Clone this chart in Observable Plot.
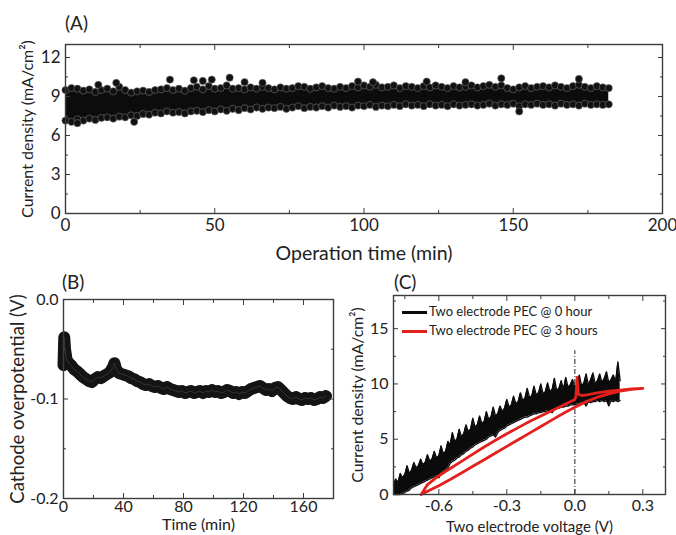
<!DOCTYPE html>
<html><head><meta charset="utf-8">
<script src="https://cdn.jsdelivr.net/npm/d3@7"></script>
<script src="https://cdn.jsdelivr.net/npm/@observablehq/plot@0.6"></script>
<style>
body{margin:0;background:#fff;}
#wrap{position:relative;width:676px;height:535px;overflow:hidden;font-family:Lato,"Open Sans",sans-serif;color:#222;}
.panel{position:absolute;}
.ttl{position:absolute;font-size:19px;line-height:1;}
.leg{position:absolute;font-size:13px;line-height:1;white-space:nowrap;}
.leg span.ln{display:inline-block;width:25px;height:3px;vertical-align:middle;margin-right:2px;}
</style></head><body><div id="wrap"></div>
<script>
// ---------- Panel A: current density vs operation time ----------
const timeA = [0,2,4,6,8,10,12,14,16,18,20,22,24,26,28,30,32,34,36,38,40,42,44,46,48,50,52,54,56,58,60,62,64,66,68,70,72,74,76,78,80,82,84,86,88,90,92,94,96,98,100,102,104,106,108,110,112,114,116,118,120,122,124,126,128,130,132,134,136,138,140,142,144,146,148,150,152,154,156,158,160,162,164,166,168,170,172,174,176,178,180,182];
const upperA = [9.5,9.65,9.6,9.45,9.55,9.35,9.5,9.6,9.4,9.75,9.5,9.3,9.4,9.45,9.35,9.5,9.55,9.65,9.5,9.6,9.45,9.65,9.75,9.55,9.8,9.6,9.65,9.85,9.6,9.65,9.55,9.7,9.6,9.75,9.65,9.55,9.7,9.6,9.65,9.8,9.75,9.6,9.7,9.8,9.65,9.6,9.75,9.65,9.8,9.7,9.85,9.75,9.9,9.7,9.75,9.85,9.65,9.8,9.75,9.65,9.8,9.7,9.85,9.75,9.65,9.8,9.7,9.75,9.85,9.7,9.8,9.9,9.75,9.85,9.65,9.55,9.7,9.8,9.65,9.75,9.8,9.7,9.85,9.75,9.65,9.8,9.9,9.75,9.65,9.8,9.7,9.65];
const lowerA = [7.15,7.05,7.25,7.15,7.3,7.2,7.35,7.4,7.3,7.45,7.4,7.55,7.5,7.65,7.6,7.75,7.7,7.85,7.75,7.8,7.7,7.85,7.9,7.8,7.95,7.85,8.0,7.9,8.05,7.95,8.1,8.0,8.15,8.05,8.15,8.1,8.2,8.05,8.15,8.25,8.1,8.2,8.15,8.25,8.15,8.3,8.2,8.25,8.15,8.3,8.25,8.35,8.2,8.3,8.25,8.35,8.25,8.4,8.3,8.35,8.25,8.4,8.3,8.35,8.25,8.4,8.3,8.35,8.4,8.3,8.35,8.45,8.3,8.4,8.35,8.45,8.25,8.4,8.35,8.45,8.35,8.4,8.3,8.45,8.35,8.4,8.3,8.45,8.35,8.4,8.35,8.4];
const outlierTimeA = [4,11,17,23,35,43,46,49,55,60,66,98,103,121,134,146,152,172];
const outlierValA = [6.95,9.9,10.05,7.05,10.3,10.25,10.2,10.3,10.45,10.1,10.05,10.15,10.1,10.15,10.1,10.4,7.85,10.35];
const xMajorA = [0,50,100,150,200];
const xMinorA = [25,75,125,175];
const yMajorA = [0,3,6,9,12];
const yMinorA = [1.5,4.5,7.5,10.5];

// ---------- Panel B: cathode overpotential vs time ----------
const timeB = [0,0.5,1,2,3,5,7,9,11,13,15,17,19,21,23,25,27,29,31,33,34,35,37,39,41,43,45,47,49,51,53,55,57,59,61,63,65,67,69,71,73,75,77,79,81,83,85,87,89,91,93,95,97,99,101,103,105,107,109,111,113,115,117,119,121,123,125,127,129,131,133,135,137,139,141,143,145,147,149,151,153,155,157,159,161,163,165,167,169,171,173,175];
const cathodeB = [-0.066,-0.038,-0.05,-0.06,-0.063,-0.066,-0.07,-0.072,-0.075,-0.078,-0.08,-0.082,-0.083,-0.08,-0.078,-0.079,-0.077,-0.075,-0.073,-0.068,-0.064,-0.07,-0.074,-0.075,-0.076,-0.077,-0.079,-0.08,-0.082,-0.083,-0.085,-0.086,-0.085,-0.087,-0.088,-0.087,-0.089,-0.09,-0.088,-0.09,-0.091,-0.092,-0.093,-0.092,-0.094,-0.093,-0.092,-0.094,-0.093,-0.092,-0.094,-0.092,-0.093,-0.091,-0.093,-0.092,-0.094,-0.093,-0.091,-0.092,-0.094,-0.093,-0.095,-0.093,-0.094,-0.092,-0.09,-0.089,-0.088,-0.087,-0.089,-0.091,-0.09,-0.092,-0.089,-0.088,-0.091,-0.094,-0.097,-0.099,-0.1,-0.098,-0.1,-0.101,-0.099,-0.1,-0.099,-0.101,-0.1,-0.098,-0.099,-0.097];
const xMajorB = [0,40,80,120,160];
const xMinorB = [20,60,100,140,180];
const yMajorB = [0,-0.1,-0.2];
const yMinorB = [-0.05,-0.15];

// ---------- Panel C: current density vs two electrode voltage ----------
const voltBlack = [-0.80,-0.79,-0.78,-0.77,-0.76,-0.75,-0.74,-0.73,-0.72,-0.71,-0.70,-0.69,-0.68,-0.67,-0.66,-0.65,-0.64,-0.63,-0.62,-0.61,-0.60,-0.59,-0.58,-0.57,-0.56,-0.55,-0.54,-0.53,-0.52,-0.51,-0.50,-0.49,-0.48,-0.47,-0.46,-0.45,-0.44,-0.43,-0.42,-0.41,-0.40,-0.39,-0.38,-0.37,-0.36,-0.35,-0.34,-0.33,-0.32,-0.31,-0.30,-0.29,-0.28,-0.27,-0.26,-0.25,-0.24,-0.23,-0.22,-0.21,-0.20,-0.19,-0.18,-0.17,-0.16,-0.15,-0.14,-0.13,-0.12,-0.11,-0.10,-0.09,-0.08,-0.07,-0.06,-0.05,-0.04,-0.03,-0.02,-0.01,0.00,0.01,0.02,0.03,0.04,0.05,0.06,0.07,0.08,0.09,0.10,0.11,0.12,0.13,0.14,0.15,0.16,0.17,0.18,0.19,0.20];
const jBlackHigh = [0.9,1.4,1.1,1.9,1.5,1.8,2.6,1.9,2.2,2.9,2.4,2.6,3.2,2.7,2.9,3.6,3.0,3.2,3.9,3.3,3.5,4.4,3.7,3.9,4.8,4.5,5.6,4.8,5.0,5.9,5.2,5.5,6.3,5.7,5.9,6.9,6.1,6.3,7.1,6.4,6.6,7.5,6.8,7.0,7.9,7.1,7.3,8.0,7.5,7.8,8.6,7.9,8.1,8.9,8.2,8.4,9.2,8.5,8.7,9.6,8.8,8.9,9.8,9.0,9.2,10.0,9.1,9.3,10.1,9.3,9.5,10.5,9.4,9.6,10.3,9.5,10.6,9.7,9.9,10.4,9.7,10.0,10.8,9.8,10.1,10.9,9.9,10.4,11.0,10.0,10.3,10.9,10.1,10.5,11.1,10.1,10.4,10.8,10.2,12.0,10.3];
const jBlackLow = [0.0,0.0,0.0,0.0,0.1,0.2,0.3,0.4,0.6,0.7,0.8,0.9,1.0,1.1,1.2,1.3,1.4,1.5,1.6,1.7,1.5,1.9,2.1,2.2,2.4,2.8,3.0,3.1,3.3,3.4,3.6,3.7,3.9,4.0,4.2,4.3,4.5,4.6,4.7,4.8,4.9,5.0,5.2,5.3,5.4,5.2,5.6,5.8,5.9,6.0,6.2,6.3,6.4,6.5,6.6,6.7,6.8,6.9,7.0,7.0,7.1,7.2,7.3,7.3,7.4,7.4,7.5,7.5,7.6,7.6,7.4,7.7,7.8,7.8,7.9,7.9,8.0,8.0,8.1,8.1,8.1,8.2,8.2,8.3,8.3,8.0,8.4,8.3,8.4,8.4,8.5,8.4,8.5,8.4,8.5,8.0,8.5,8.4,8.5,8.4,8.5];
const voltRed = [-0.678,-0.65,-0.6,-0.55,-0.5,-0.45,-0.4,-0.35,-0.3,-0.25,-0.2,-0.15,-0.1,-0.05,0.0,0.05,0.1,0.15,0.2,0.25,0.3,0.25,0.2,0.15,0.1,0.05,0.03,0.015,0.01,0.005,0.0,-0.05,-0.1,-0.15,-0.2,-0.25,-0.3,-0.35,-0.4,-0.45,-0.5,-0.55,-0.6,-0.65,-0.678];
const jRed = [0.0,0.3,0.8,1.35,1.95,2.55,3.15,3.75,4.35,4.95,5.55,6.15,6.75,7.35,7.9,8.4,8.8,9.1,9.35,9.5,9.6,9.55,9.45,9.35,9.2,9.0,8.95,9.1,10.6,8.9,8.6,8.1,7.6,7.1,6.6,6.05,5.5,4.9,4.3,3.65,3.0,2.35,1.7,0.9,0.0];
const guideC = [{v:0, lo:0, hi:13}];
const xMajorC = [-0.6,-0.3,0,0.3];
const xMinorC = [-0.75,-0.45,-0.15,0.15];
const yMajorC = [0,5,10,15];
const yMinorC = [2.5,7.5,12.5,17.5];
const legendC = ["Two electrode PEC @ 0 hour","Two electrode PEC @ 3 hours"];
const colorsC = ["#0b0b0b","#e3201c"];

// ---------- helpers ----------
const FONT = "Lato, 'Open Sans', sans-serif";
const FRAME = "#3c3c3c";
const TXT = "#222";
function tickAxes(xMaj, xMin, yMaj, yMin, fmtX, fmtY, fs, xPad) {
  const blank = () => "";
  return [
    Plot.axisX(xMaj, {anchor:"bottom", tickSize:-5, tickPadding:xPad, tickFormat:fmtX, fontSize:fs, fill:TXT, stroke:FRAME, label:null}),
    Plot.axisX(xMin, {anchor:"bottom", tickSize:-3, tickFormat:blank, stroke:FRAME, label:null}),
    Plot.axisX(xMaj, {anchor:"top", tickSize:-5, tickFormat:blank, stroke:FRAME, label:null}),
    Plot.axisX(xMin, {anchor:"top", tickSize:-3, tickFormat:blank, stroke:FRAME, label:null}),
    Plot.axisY(yMaj, {anchor:"left", tickSize:-5, tickPadding:10, tickFormat:fmtY, fontSize:fs, fill:TXT, stroke:FRAME, label:null}),
    Plot.axisY(yMin, {anchor:"left", tickSize:-3, tickFormat:blank, stroke:FRAME, label:null}),
    Plot.axisY(yMaj, {anchor:"right", tickSize:-5, tickFormat:blank, stroke:FRAME, label:null}),
    Plot.axisY(yMin, {anchor:"right", tickSize:-3, tickFormat:blank, stroke:FRAME, label:null}),
    Plot.frame({stroke:FRAME, strokeWidth:1.4})
  ];
}
function axisTitles(xLabel, xOff, xFs, yLabel, yOff, yFs) {
  return [
    Plot.text([xLabel], {frameAnchor:"bottom", dy:xOff, lineAnchor:"bottom", textAnchor:"middle", fontSize:xFs, fill:TXT}),
    Plot.text([yLabel], {frameAnchor:"left", dx:-yOff, rotate:-90, lineAnchor:"top", textAnchor:"middle", fontSize:yFs, fill:TXT})
  ];
}
const wrap = document.getElementById("wrap");
function place(el, left, top) { el.classList.add("panel"); el.style.left = left+"px"; el.style.top = top+"px"; wrap.appendChild(el); }

// ---------- Panel A ----------
const rowsA = timeA.map((t,i) => ({t, hi:upperA[i], lo:lowerA[i]}));
const outA = outlierTimeA.map((t,i) => ({t, v:outlierValA[i]}));
const dotStyle = {r:3.6, fill:"#111", stroke:"#6e6e6e", strokeWidth:0.6};
const plotA = Plot.plot({
  width:676, height:270, marginLeft:65, marginRight:14, marginTop:44, marginBottom:57,
  style:{fontFamily:FONT, fontSize:"17px", background:"transparent", color:TXT, overflow:"visible"},
  x:{domain:[0,200]}, y:{domain:[0,13]},
  marks:[
    Plot.areaY(rowsA, {x:"t", y1:"lo", y2:"hi", fill:"#0c0c0c"}),
    Plot.dot(rowsA, {x:"t", y:"hi", ...dotStyle}),
    Plot.dot(rowsA, {x:"t", y:"lo", ...dotStyle}),
    Plot.dot(outA, {x:"t", y:"v", ...dotStyle}),
    ...tickAxes(xMajorA, xMinorA, yMajorA, yMinorA, d=>String(d), d=>String(d), 17, 10),
    ...axisTitles("Operation time (min)", 46, 19.5, "Current density (mA/cm²)", 44, 16)
  ]
});
place(plotA, 0, 0);

// ---------- Panel B ----------
const rowsB = timeB.map((t,i) => ({t, v:cathodeB[i]}));
const plotB = Plot.plot({
  width:340, height:265, marginLeft:63, marginRight:7, marginTop:29, marginBottom:37,
  style:{fontFamily:FONT, fontSize:"16px", background:"transparent", color:TXT, overflow:"visible"},
  x:{domain:[0,180]}, y:{domain:[-0.2,0]},
  marks:[
    Plot.line(rowsB, {x:"t", y:"v", stroke:"#141414", strokeWidth:12, strokeLinejoin:"round", strokeLinecap:"round"}),
    Plot.line(rowsB, {x:"t", y:"v", stroke:"#3a3a3a", strokeWidth:1, strokeOpacity:0.8}),
    ...tickAxes(xMajorB, xMinorB, yMajorB, yMinorB, d=>String(d), d=>d.toFixed(1), 16, 7),
    ...axisTitles("Time (min)", 31, 16, "Cathode overpotential (V)", 53, 18.5)
  ]
});
place(plotB, 0, 270);

// ---------- Panel C ----------
const rowsBlack = voltBlack.map((v,i) => ({v, hi:jBlackHigh[i], lo:jBlackLow[i]}));
const rowsRed = voltRed.map((v,i) => ({v, j:jRed[i]}));
const plotC = Plot.plot({
  width:336, height:265, marginLeft:53, marginRight:11, marginTop:25, marginBottom:41,
  style:{fontFamily:FONT, fontSize:"16px", background:"transparent", color:TXT, overflow:"visible"},
  x:{domain:[-0.8,0.4]}, y:{domain:[0,18]},
  marks:[
    Plot.ruleX(guideC, {x:"v", y1:"lo", y2:"hi", stroke:"#444", strokeWidth:1.2, strokeDasharray:"5,2,1,2"}),
    Plot.areaY(rowsBlack, {x:"v", y1:"lo", y2:"hi", fill:colorsC[0]}),
    Plot.line(rowsBlack, {x:"v", y:"hi", stroke:colorsC[0], strokeWidth:1.3, strokeLinejoin:"round"}),
    Plot.line(rowsBlack, {x:"v", y:"lo", stroke:colorsC[0], strokeWidth:1.3, strokeLinejoin:"round"}),
    Plot.line(rowsRed, {x:"v", y:"j", stroke:colorsC[1], strokeWidth:2.8, strokeLinejoin:"round"}),
    ...tickAxes(xMajorC, xMinorC, yMajorC, yMinorC, d=>d.toFixed(1), d=>String(d), 16, 10),
    ...axisTitles("Two electrode voltage (V)", 37, 15, "Current density (mA/cm²)", 42, 15.8)
  ]
});
place(plotC, 340, 270);

// ---------- titles & legend ----------
[["(A)",65,13],["(B)",62,272],["(C)",394,272]].forEach(([t,x,y]) => {
  const d = document.createElement("div"); d.className = "ttl"; d.textContent = t;
  d.style.left = x+"px"; d.style.top = y+"px"; wrap.appendChild(d);
});
legendC.forEach((t,i) => {
  const d = document.createElement("div"); d.className = "leg";
  d.style.left = "402px"; d.style.top = (305 + i*19)+"px";
  d.innerHTML = `<span class="ln" style="background:${colorsC[i]}"></span>${t}`;
  wrap.appendChild(d);
});
</script>
</body></html>
